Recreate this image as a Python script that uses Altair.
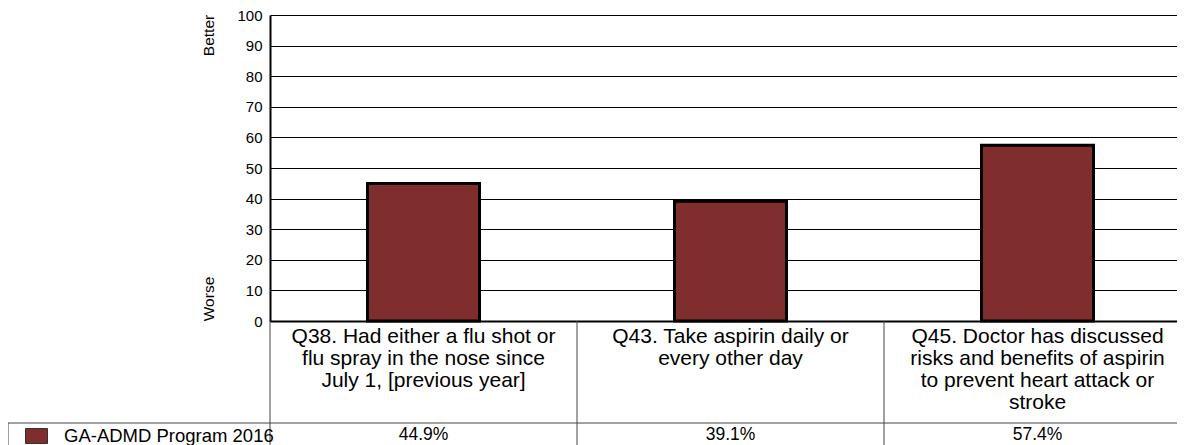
import altair as alt
import pandas as pd

# ---- data ----
keys = ["Q38", "Q43", "Q45"]
label_lines = [
    ["Q38. Had either a flu shot or", "flu spray in the nose since", "July 1, [previous year]"],
    ["Q43. Take aspirin daily or", "every other day"],
    ["Q45. Doctor has discussed", "risks and benefits of aspirin", "to prevent heart attack or", "stroke"],
]
values = [44.9, 39.1, 57.4]
value_labels = ["44.9%", "39.1%", "57.4%"]
series_name = "GA-ADMD Program 2016"
y_ticks = [0, 10, 20, 30, 40, 50, 60, 70, 80, 90, 100]

df = pd.DataFrame({
    "key": keys,
    "lines": label_lines,
    "value": values,
    "vlabel": value_labels,
    "series": [series_name] * len(keys),
})

FONT = "Liberation Sans"
W, H = 907, 306          # visible plot area (canvas fits the window)
XR = 921                 # full band range (right part is cut by the window, as in the reference)
BAR = "#7F2D2D"

xscale = alt.Scale(domain=keys, paddingInner=0, paddingOuter=0, range=[0, XR])
yscale = alt.Scale(domain=[0, 100], nice=False)

base = alt.Chart(df)

bars = base.mark_bar(size=112, stroke="black", strokeWidth=3).encode(
    x=alt.X("key:N", scale=xscale, sort=keys,
            axis=alt.Axis(labels=False, ticks=False, title=None, grid=False,
                          domainColor="black", domainWidth=2)),
    y=alt.Y("value:Q", scale=yscale,
            axis=alt.Axis(values=y_ticks, grid=True, gridColor="black", gridWidth=1,
                          gridOpacity=1, domainColor="black", domainWidth=2, ticks=False,
                          labelPadding=8, labelFontSize=15, labelColor="black",
                          labelFont=FONT, title=None)),
    color=alt.Color("series:N", scale=alt.Scale(domain=[series_name], range=[BAR]),
                    legend=alt.Legend(orient="none", legendX=-245, legendY=409.5,
                                      title=None, padding=0,
                                      symbolType="M-1,-0.68L1,-0.68L1,0.68L-1,0.68Z",
                                      symbolSize=484, symbolStrokeColor="#333",
                                      symbolStrokeWidth=1, symbolOpacity=1,
                                      labelFontSize=18.5, labelFont=FONT, labelColor="black",
                                      labelOffset=16, labelLimit=400)),
)

# category labels (table header row)
cat_text = base.mark_text(fontSize=21, font=FONT, color="black", baseline="alphabetic",
                          align="center", lineHeight=22).encode(
    x=alt.X("key:N", scale=xscale, sort=keys),
    y=alt.value(328),
    text="lines",
)

# value row
val_text = base.mark_text(fontSize=17.5, font=FONT, color="black", baseline="alphabetic",
                          align="center").encode(
    x=alt.X("key:N", scale=xscale, sort=keys),
    y=alt.value(425),
    text="vlabel:N",
)

# table vertical lines at band boundaries
vlines = base.mark_rule(color="#444", strokeWidth=1).encode(
    x=alt.X("key:N", scale=xscale, sort=keys, bandPosition=0),
    y=alt.value(H),
    y2=alt.value(H + 130),
)

one = alt.Chart(pd.DataFrame({"k": [0]}))
hline = one.mark_rule(color="#444", strokeWidth=1).encode(
    x=alt.value(-262), x2=alt.value(XR), y=alt.value(408)
)
left_line = one.mark_rule(color="#444", strokeWidth=1).encode(
    x=alt.value(-262), y=alt.value(408), y2=alt.value(H + 130)
)

# Better / Worse axis annotations
ann = pd.DataFrame({"t": ["Better", "Worse"], "py": [20.5, 284]})
ann_text = alt.Chart(ann).mark_text(angle=270, fontSize=15.5, font=FONT, color="black",
                                    align="center", baseline="middle").encode(
    x=alt.value(-61),
    y=alt.Y("py:Q", scale=None),
    text="t:N",
)

chart = alt.layer(bars, vlines, hline, left_line, cat_text, val_text, ann_text).properties(
    width=W, height=H,
    autosize=alt.AutoSizeParams(type="none"),
    padding={"left": 262, "top": 7, "right": 0, "bottom": 124},
).configure_view(stroke="black", strokeWidth=1).configure(font=FONT)

chart.save("out.html", embed_options={"renderer": "svg", "actions": False})
